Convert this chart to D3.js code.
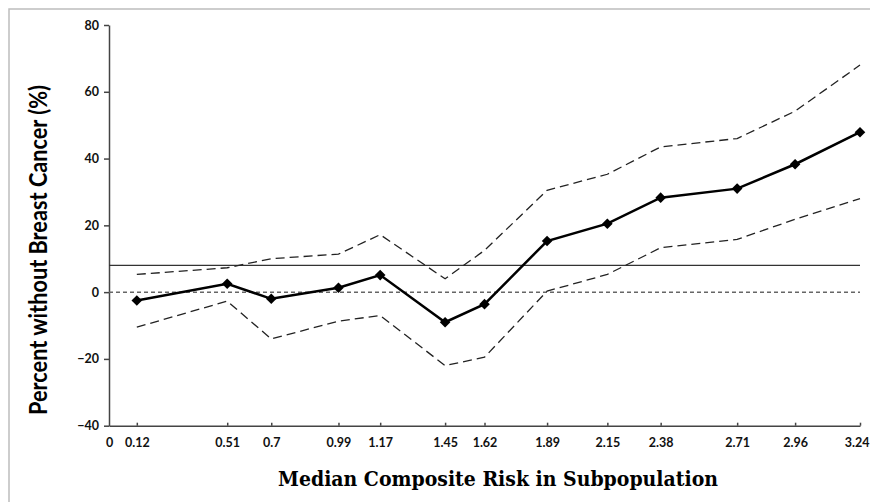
<!DOCTYPE html>
<html>
<head>
<meta charset="utf-8">
<script src="https://cdn.jsdelivr.net/npm/d3@7"></script>
<style>
  body { margin: 0; background: #fff; }
  .axis path, .axis line { stroke: #444; }
  .axis text { font-family: Lato, "Open Sans", sans-serif; font-weight: bold; font-size: 12.5px; fill: #111; }
</style>
</head>
<body>
<script>
// median composite risk per subpopulation (x) and percent without breast cancer (y)
var risk = [0.12, 0.51, 0.7, 0.99, 1.17, 1.45, 1.62, 1.89, 2.15, 2.38, 2.71, 2.96, 3.24];
var pct = [-2.5, 2.5, -2.0, 1.3, 5.1, -9.0, -3.6, 15.3, 20.5, 28.3, 31.0, 38.3, 47.9];
var upper = [5.3, 7.3, 10.0, 11.4, 17.2, 4.0, 12.5, 30.5, 35.3, 43.5, 46.0, 54.2, 68.0];
var lower = [-10.5, -2.7, -14.0, -8.7, -7.0, -22.0, -19.5, 0.3, 5.3, 13.3, 15.8, 21.8, 28.0];
var refValue = 8;
var yTicks = [-40, -20, 0, 20, 40, 60, 80];
var xTicks = [0].concat(risk);

var w = 870,
    h = 502;

var svg = d3.select("body")
            .append("svg")
             .attr("width", w)
             .attr("height", h);

// light frame around the figure
svg.append("rect")
   .attr("x", 9)
   .attr("y", 9)
   .attr("width", 900)
   .attr("height", 600)
   .attr("fill", "none")
   .attr("stroke", "#bdbdbd")
   .attr("stroke-width", 1.5);

// scales
var xScale = d3.scaleLinear()
               .domain([0, 3.24])
               .range([109, 860]);

var yScale = d3.scaleLinear()
               .domain([-40, 80])
               .range([425.7, 25]);

// y axis
svg.append("g")
   .attr("class", "axis")
   .attr("transform", "translate(109,0)")
   .call(d3.axisLeft(yScale).tickValues(yTicks).tickSizeInner(5).tickSizeOuter(0).tickPadding(5))
   .call(function(g) { g.selectAll("path, line").attr("stroke-width", 1.5); });

// x axis
svg.append("g")
   .attr("class", "axis")
   .attr("transform", "translate(0," + yScale(-40) + ")")
   .call(d3.axisBottom(xScale).tickValues(xTicks).tickFormat(function(d) { return String(d); })
           .tickSizeInner(-3).tickSizeOuter(0).tickPadding(12))
   .call(function(g) {
       g.selectAll("path, line").attr("stroke-width", 1.5);
       g.selectAll(".tick").filter(function(d) { return d === 0; }).select("line").remove();
       // last label sits at the right edge, keep it inside the window
       g.selectAll(".tick").filter(function(d) { return d === 3.24; }).select("text").attr("text-anchor", "end").attr("x", 9);
   });

// zero line and reference line
svg.append("line")
   .attr("x1", xScale(0)).attr("x2", xScale(3.24))
   .attr("y1", yScale(0)).attr("y2", yScale(0))
   .attr("stroke", "#666")
   .attr("stroke-width", 1.5)
   .attr("stroke-dasharray", "4,3");

svg.append("line")
   .attr("x1", xScale(0)).attr("x2", xScale(3.24))
   .attr("y1", yScale(refValue)).attr("y2", yScale(refValue))
   .attr("stroke", "#333")
   .attr("stroke-width", 1.3);

// line generator
var line = d3.line()
             .x(function(d, i) { return xScale(risk[i]); })
             .y(function(d) { return yScale(d); });

// confidence bounds
[upper, lower].forEach(function(s) {
    svg.append("path")
       .attr("d", line(s))
       .attr("fill", "none")
       .attr("stroke", "#222")
       .attr("stroke-width", 1.3)
       .attr("stroke-dasharray", "9,5");
});

// main series
svg.append("path")
   .attr("d", line(pct))
   .attr("fill", "none")
   .attr("stroke", "#000")
   .attr("stroke-width", 2.5);

svg.selectAll(".marker")
   .data(pct)
   .enter()
   .append("path")
   .attr("class", "marker")
   .attr("d", d3.symbol(d3.symbolSquare, 56))
   .attr("transform", function(d, i) {
       return "translate(" + xScale(risk[i]) + "," + yScale(d) + ") rotate(45)";
   })
   .attr("fill", "#000");

// axis titles
svg.append("text")
   .attr("x", 498)
   .attr("y", 486)
   .attr("text-anchor", "middle")
   .attr("font-family", "DejaVu Serif, Liberation Serif, serif")
   .attr("font-weight", "bold")
   .attr("font-size", "21px")
   .attr("textLength", 440)
   .attr("lengthAdjust", "spacingAndGlyphs")
   .text("Median Composite Risk in Subpopulation");

svg.append("text")
   .attr("transform", "translate(47,250) rotate(-90)")
   .attr("text-anchor", "middle")
   .attr("font-family", "Lato, Open Sans, sans-serif")
   .attr("font-weight", "bold")
   .attr("font-size", "24px")
   .attr("textLength", 330)
   .attr("lengthAdjust", "spacingAndGlyphs")
   .text("Percent without Breast Cancer (%)");
</script>
</body>
</html>
